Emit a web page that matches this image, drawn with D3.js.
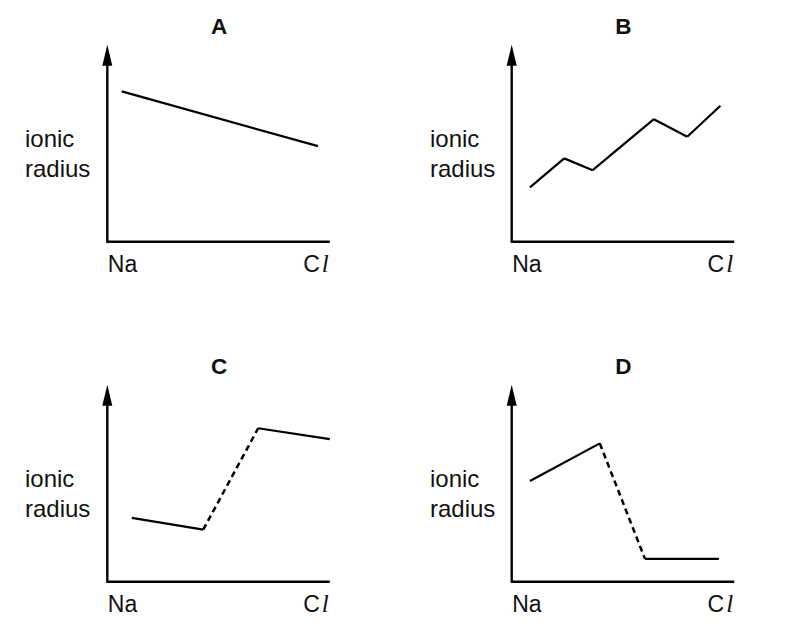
<!DOCTYPE html>
<html>
<head>
<meta charset="utf-8">
<script src="https://cdn.jsdelivr.net/npm/d3@7"></script>
<style>
  html, body { margin: 0; padding: 0; background: #fff; }
  svg { display: block; }
  text { font-family: "Liberation Sans", Arial, Helvetica, sans-serif; fill: #111; }
</style>
</head>
<body>
<svg id="chart" width="787" height="633"></svg>
<script>
// ---- data ----
const panelTitles = ["A", "B", "C", "D"];
const xLabels = ["Na", "Cl"];
const yLabelLines = ["ionic", "radius"];

// points on a 0-100 scale (x along Na..Cl axis, y = relative ionic radius)
const seriesA = [[6.5, 76.3], [94.7, 48.5]];
const seriesB = [[8.2, 27.6], [23.6, 42.3], [36.4, 36.3], [63.9, 62.2], [78.9, 53.3], [93.8, 69.0]];
const seriesC = [[11.0, 32.4], [43.1, 26.4], [67.8, 77.9], [100, 72.4]];
const seriesD = [[8.2, 51.1], [39.6, 70.2], [59.9, 11.6], [93.1, 11.6]];

// segment styles (segment i joins point i and i+1)
const stylesA = ["solid"];
const stylesB = ["solid", "solid", "solid", "solid", "solid"];
const stylesC = ["solid", "dashed", "solid"];
const stylesD = ["solid", "dashed", "solid"];

const allSeries = [seriesA, seriesB, seriesC, seriesD];
const allStyles = [stylesA, stylesB, stylesC, stylesD];

// ---- layout ----
const origins = [[107.3, 241.7], [511.7, 241.7], [107.3, 581.7], [511.7, 581.7]];
const axisLen = 222.5;
const axisHeight = 197;

const svg = d3.select("#chart");

origins.forEach((o, i) => {
  const [ox, oy] = o;
  const g = svg.append("g");
  const x = d3.scaleLinear().domain([0, 100]).range([ox, ox + axisLen]);
  const y = d3.scaleLinear().domain([0, 100]).range([oy, oy - axisHeight]);

  // axes
  const tipY = y(100);
  g.append("line").attr("x1", x(0)).attr("y1", oy).attr("x2", x(100)).attr("y2", oy)
    .attr("stroke", "#000").attr("stroke-width", 2.4);
  g.append("line").attr("x1", x(0)).attr("y1", oy + 1.2).attr("x2", x(0)).attr("y2", tipY + 12)
    .attr("stroke", "#000").attr("stroke-width", 2.4);
  g.append("path")
    .attr("d", `M${x(0)},${tipY} L${x(0) - 5},${tipY + 21} L${x(0) + 5},${tipY + 21} Z`)
    .attr("fill", "#000");

  // title
  g.append("text").attr("x", x(50) + 0.5).attr("y", oy - 207.5)
    .attr("text-anchor", "middle").attr("font-weight", "bold").attr("font-size", 22.5)
    .text(panelTitles[i]);

  // y label
  const labX = ox - (i % 2 === 0 ? 82.3 : 81.7);
  yLabelLines.forEach((t, k) => {
    g.append("text").attr("x", labX).attr("y", oy - 94.7 + k * 30)
      .attr("font-size", 24).text(t);
  });

  // x labels
  g.append("text").attr("x", x(0) + 0.5).attr("y", oy + 30)
    .attr("font-size", 23).text(xLabels[0]);
  const cl = g.append("text").attr("x", x(100) - 1).attr("y", oy + 30)
    .attr("font-size", 23).attr("text-anchor", "end");
  cl.append("tspan").text(xLabels[1].charAt(0));
  cl.append("tspan").attr("font-family", "'Liberation Serif', 'Times New Roman', serif")
    .attr("font-style", "italic").attr("font-size", 25).attr("dx", 2).text(xLabels[1].charAt(1).toLowerCase());

  // data line segments
  const data = allSeries[i];
  const styles = allStyles[i];
  const line = d3.line().x(d => x(d[0])).y(d => y(d[1]));
  styles.forEach((s, k) => {
    g.append("path").attr("d", line([data[k], data[k + 1]]))
      .attr("fill", "none").attr("stroke", "#000")
      .attr("stroke-width", s === "dashed" ? 2.5 : 2.2)
      .attr("stroke-linejoin", "miter")
      .attr("stroke-dasharray", s === "dashed" ? "6,4" : null);
  });
});
</script>
</body>
</html>
